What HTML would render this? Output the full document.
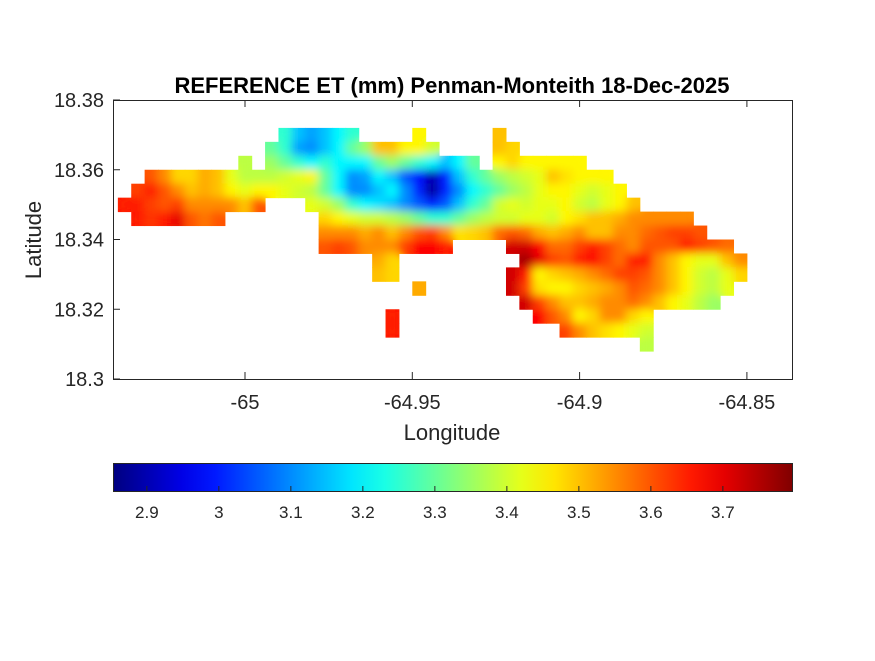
<!DOCTYPE html>
<html><head><meta charset="utf-8">
<style>
html,body{margin:0;padding:0;background:#fff;}
svg text{font-family:"Liberation Sans",Arial,sans-serif;fill:#262626;}
</style></head>
<body>
<svg id="chart" width="875" height="656" viewBox="0 0 875 656" xmlns="http://www.w3.org/2000/svg">
<defs>
<filter id="smooth" filterUnits="userSpaceOnUse" x="100" y="90" width="710" height="300">
<feGaussianBlur stdDeviation="4.5"/>
<feComponentTransfer><feFuncA type="linear" slope="30" intercept="0"/></feComponentTransfer>
</filter>
<clipPath id="landClip"></clipPath>
<linearGradient id="jetGrad" x1="0" x2="1" y1="0" y2="0"></linearGradient>
</defs>
<rect x="0" y="0" width="875" height="656" fill="#fff"/>
<text x="452" y="93" text-anchor="middle" font-size="22" font-weight="bold" style="fill:#000">REFERENCE ET (mm) Penman-Monteith 18-Dec-2025</text>
<g id="mapCells" clip-path="url(#landClip)"><g id="cellsInner" filter="url(#smooth)"></g></g>
<rect x="113.5" y="100.5" width="679" height="279" fill="none" stroke="#262626" stroke-width="1"/>
<g id="axes"></g>
<text transform="translate(41,240) rotate(-90)" text-anchor="middle" font-size="22">Latitude</text>
<text x="452" y="440" text-anchor="middle" font-size="22">Longitude</text>
<rect x="113.5" y="463.5" width="679" height="28" fill="url(#jetGrad)" stroke="#262626" stroke-width="1"/>
<g id="cbTicks"></g>
</svg>
<script>
// ---- data ----
const xTickValues = [-65, -64.95, -64.9, -64.85];
const xTickLabels = ["-65", "-64.95", "-64.9", "-64.85"];
const yTickValues = [18.3, 18.32, 18.34, 18.36, 18.38];
const yTickLabels = ["18.3", "18.32", "18.34", "18.36", "18.38"];
const cbTickValues = [2.9, 3.0, 3.1, 3.2, 3.3, 3.4, 3.5, 3.6, 3.7];
const cbTickLabels = ["2.9", "3", "3.1", "3.2", "3.3", "3.4", "3.5", "3.6", "3.7"];
const cbMin = 2.853, cbMax = 3.796;
const gridLon0 = -65.038, gridLat0 = 18.372, gridStep = 0.004;
const rowStartCols = [12, 11, 9, 2, 1, 0, 1, 15, 15, 19, 19, 22, 30, 20, 20, 39];
const rowValues = [
 [3.25,3.15,3.12,3.15,3.2,3.25,null,null,null,null,3.45,null,null,null,null,null,3.5],
 [3.3,3.25,3.12,3.1,3.15,3.2,3.3,3.35,3.5,3.5,3.45,3.45,3.4,null,null,null,null,3.5,3.48],
 [3.38,null,3.35,3.3,3.25,3.2,3.25,3.2,3.2,3.2,3.3,3.35,3.3,3.25,3.2,3.15,3.2,3.3,null,3.45,3.48,3.45,3.45,3.45,3.45,3.45],
 [3.6,3.55,3.48,3.48,3.52,3.5,3.42,3.38,3.38,3.38,3.4,3.42,3.45,3.3,3.2,3.1,3.12,3.2,3.15,3.05,2.98,2.9,3.0,3.15,3.25,3.3,3.35,3.38,3.4,3.42,3.5,3.47,3.45,3.45,3.45],
 [3.62,3.65,3.6,3.55,3.5,3.52,3.5,3.45,3.42,3.45,3.45,3.42,3.4,3.38,3.3,3.2,3.1,3.1,3.15,3.2,3.1,3.0,2.88,3.0,3.1,3.2,3.25,3.3,3.35,3.38,3.42,3.45,3.45,3.42,3.4,3.42,3.45],
 [3.65,3.65,3.62,3.6,3.62,3.55,3.55,3.55,3.55,3.5,3.6,null,null,null,3.42,3.4,3.35,3.25,3.2,3.18,3.15,3.1,3.05,3.0,3.05,3.15,3.25,3.3,3.4,3.42,3.4,3.42,3.42,3.45,3.4,3.38,3.42,3.45,3.5],
 [3.65,3.63,3.65,3.7,3.6,3.57,3.6,null,null,null,null,null,null,null,3.48,3.45,3.42,3.4,3.4,3.38,3.35,3.3,3.25,3.25,3.3,3.35,3.38,3.4,3.4,3.42,3.42,3.4,3.45,3.47,3.5,3.5,3.52,3.55,3.55,3.55,3.55,3.55],
 [3.55,3.55,3.55,3.52,3.55,3.5,3.55,3.6,3.62,3.55,3.47,3.48,3.5,3.58,3.6,3.58,3.52,3.5,3.52,3.55,3.5,3.5,3.55,3.55,3.58,3.6,3.62,3.62,3.6],
 [3.6,3.62,3.6,3.55,3.55,3.55,3.62,3.68,3.68,3.65,null,null,null,null,3.72,3.72,3.68,3.58,3.58,3.62,3.65,3.62,3.58,3.55,3.6,3.6,3.6,3.65,3.62,3.6,3.58],
 [3.52,3.48,null,null,null,null,null,null,null,null,null,3.76,3.7,3.62,3.6,3.65,3.68,3.62,3.58,3.65,3.65,3.55,3.5,3.45,3.42,3.42,3.5,3.55],
 [3.5,3.48,null,null,null,null,null,null,null,null,3.72,3.65,3.45,3.48,3.5,3.52,3.55,3.58,3.62,3.62,3.6,3.55,3.5,3.45,3.4,3.38,3.42,3.48],
 [3.52,null,null,null,null,null,null,3.72,3.62,3.47,3.45,3.45,3.48,3.5,3.52,3.55,3.6,3.58,3.55,3.5,3.45,3.4,3.38,3.42],
 [3.72,3.62,3.55,3.5,3.5,3.52,3.55,3.55,3.58,3.55,3.5,3.45,3.42,3.38,3.35],
 [3.65,null,null,null,null,null,null,null,null,null,null,3.68,3.6,3.55,3.45,3.48,3.55,3.55,3.48,3.45],
 [3.65,null,null,null,null,null,null,null,null,null,null,null,null,3.62,3.55,3.5,3.47,3.45,3.42,3.4],
 [3.38]
];
// ---- scales ----
function xScale(lon){ return 245 + (lon + 65) * 3346; }
function yScale(lat){ return 379 - (lat - 18.3) * 3487.5; }
function cbScale(v){ return 113 + (v - cbMin) / (cbMax - cbMin) * 679; }
function jet(t){
  const c = x => Math.max(0, Math.min(1, x));
  const r = c(Math.min(4*t-1.5, -4*t+4.5)), g = c(Math.min(4*t-0.5, -4*t+3.5)), b = c(Math.min(4*t+0.5, -4*t+2.5));
  return 'rgb(' + Math.round(r*255) + ',' + Math.round(g*255) + ',' + Math.round(b*255) + ')';
}
function colorOf(v){ return jet((v - cbMin) / (cbMax - cbMin)); }
const NS = 'http://www.w3.org/2000/svg';
const inner = document.getElementById('cellsInner');
const clip = document.getElementById('landClip');
rowValues.forEach((vals, r) => {
  vals.forEach((v, k) => {
    if (v === null) return;
    const col = rowStartCols[r] + k;
    const lon0 = gridLon0 + col * gridStep, lon1 = lon0 + gridStep;
    const latT = gridLat0 - r * gridStep, latB = latT - gridStep;
    const x0 = xScale(lon0), x1 = xScale(lon1), y0 = yScale(latT), y1 = yScale(latB);
    const rc = document.createElementNS(NS, 'rect');
    rc.setAttribute('x', x0 - 0.3); rc.setAttribute('y', y0 - 0.3);
    rc.setAttribute('width', x1 - x0 + 0.6); rc.setAttribute('height', y1 - y0 + 0.6);
    rc.setAttribute('fill', colorOf(v));
    
    
    inner.appendChild(rc);
    const cr = document.createElementNS(NS, 'rect');
    cr.setAttribute('x', x0); cr.setAttribute('y', y0);
    cr.setAttribute('width', x1 - x0 + 0.5); cr.setAttribute('height', y1 - y0 + 0.5);
    clip.appendChild(cr);
  });
});
// axes ticks
const axes = document.getElementById('axes');
xTickValues.forEach((v, i) => {
  const x = xScale(v);
  const t = document.createElementNS(NS, 'line');
  t.setAttribute('x1', x); t.setAttribute('x2', x); t.setAttribute('y1', 379); t.setAttribute('y2', 372);
  t.setAttribute('stroke', '#262626');
  
  
  axes.appendChild(t);
  const tx = document.createElementNS(NS, 'text');
  tx.setAttribute('x', x); tx.setAttribute('y', 409); tx.setAttribute('text-anchor', 'middle'); tx.setAttribute('font-size', '20');
  tx.textContent = xTickLabels[i];
  
  
  axes.appendChild(tx);
  const tt = document.createElementNS(NS, 'line');
  tt.setAttribute('x1', x); tt.setAttribute('x2', x); tt.setAttribute('y1', 100); tt.setAttribute('y2', 107);
  tt.setAttribute('stroke', '#262626');
  
  
  axes.appendChild(tt);
});
yTickValues.forEach((v, i) => {
  const y = yScale(v);
  const t = document.createElementNS(NS, 'line');
  t.setAttribute('x1', 113); t.setAttribute('x2', 120); t.setAttribute('y1', y); t.setAttribute('y2', y);
  t.setAttribute('stroke', '#262626');
  
  
  axes.appendChild(t);
  const tx = document.createElementNS(NS, 'text');
  tx.setAttribute('x', 104); tx.setAttribute('y', y + 7); tx.setAttribute('text-anchor', 'end'); tx.setAttribute('font-size', '20');
  tx.textContent = yTickLabels[i];
  
  
  axes.appendChild(tx);
});
// colorbar
const grad = document.getElementById('jetGrad');
for (let i = 0; i <= 20; i++) {
  const s = document.createElementNS(NS, 'stop');
  s.setAttribute('offset', (i / 20));
  s.setAttribute('stop-color', jet(i / 20));
  grad.appendChild(s);
}
const cb = document.getElementById('cbTicks');
cbTickValues.forEach((v, i) => {
  const x = cbScale(v);
  const t = document.createElementNS(NS, 'line');
  t.setAttribute('x1', x); t.setAttribute('x2', x); t.setAttribute('y1', 491); t.setAttribute('y2', 486);
  t.setAttribute('stroke', '#262626');
  
  
  cb.appendChild(t);
  const tx = document.createElementNS(NS, 'text');
  tx.setAttribute('x', x); tx.setAttribute('y', 518); tx.setAttribute('text-anchor', 'middle'); tx.setAttribute('font-size', '17');
  tx.textContent = cbTickLabels[i];
  
  
  cb.appendChild(tx);
});
</script>
</body></html>
